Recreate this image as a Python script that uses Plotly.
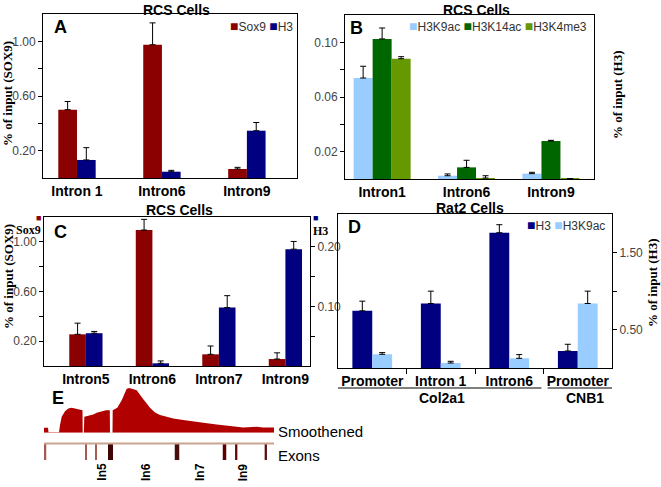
import plotly.graph_objects as go

W, H = 661, 487

# ---------------- data ----------------
# Panel A (RCS cells, % of input)
a_cats = ["Intron 1", "Intron6", "Intron9"]
a_sox9 = [0.50, 0.975, 0.066]
a_sox9_err = [0.06, 0.16, 0.012]
a_h3 = [0.132, 0.046, 0.346]
a_h3_err = [0.09, 0.01, 0.06]

# Panel B (RCS cells, % of input (H3))
b_cats = ["Intron1", "Intron6", "Intron9"]
b_k9ac = [0.0739, 0.0024, 0.0039]
b_k9ac_err = [0.0086, 0.0013, 0.0010]
b_k14ac = [0.1025, 0.0085, 0.0278]
b_k14ac_err = [0.0080, 0.0052, 0.0005]
b_k4me3 = [0.0880, 0.0007, 0.0003]
b_k4me3_err = [0.0015, 0.0017, 0.0]

# Panel C (RCS cells)
c_cats = ["Intron5", "Intron6", "Intron7", "Intron9"]
c_sox9 = [0.255, 1.095, 0.094, 0.056]
c_sox9_err = [0.09, 0.086, 0.067, 0.05]
c_h3 = [0.055, 0.0045, 0.098, 0.196]
c_h3_err = [0.003, 0.004, 0.020, 0.013]

# Panel D (Rat2 cells)
d_cats = ["Promoter", "Intron 1", "Intron6", "Promoter"]
d_h3 = [0.742, 0.838, 1.757, 0.221]
d_h3_err = [0.126, 0.16, 0.104, 0.087]
d_k9ac = [0.178, 0.065, 0.126, 0.838]
d_k9ac_err = [0.022, 0.022, 0.048, 0.16]

# Panel E: smoothened ChIP-seq signal along the locus
e_pos = [0, 4, 4.5, 15, 16, 17.7, 21, 24.3, 27.7, 32.7,
         36, 38.5, 38.7, 39.8, 40.3, 44.3, 49.3, 52.7, 57.7, 62,
         65.8, 66, 68.5, 68.7, 73.3, 77.7, 82.7, 85.3, 92.7, 96,
         99.3, 102.7, 106, 111, 116, 122.7, 129.3, 139.3, 149.3, 159.3,
         172.7, 186, 199.3, 212.7, 219.3, 230]
e_signal = [5, 5, 0.5, 0.5, 7.7, 16, 21.7, 24.3, 25, 23.7,
            22.7, 22.7, 0, 0, 16, 16.7, 18.3, 20, 21.7, 22.7,
            22.7, 0, 0, 22.7, 25, 32.7, 44.3, 45, 42.7, 37.7,
            33.7, 29.3, 25, 20.3, 17.7, 16, 14.3, 12.7, 11, 10,
            8.3, 6.7, 5.3, 6, 5.3, 5.3]
exon_pos = [1.5, 42, 52, 66.5, 133, 180.5, 192.2, 221.8]
exon_len = [1.5, 1.5, 1.5, 5.0, 4.5, 3.5, 2.3, 2.3]
exon_col = ["#a65a50", "#a65a50", "#a65a50", "#3d0505", "#4a0d0d", "#5a0000", "#660808", "#5a1010"]
intron_labels = ["In5", "In6", "In7", "In9"]
intron_pos = [57.7, 102, 156, 199.3]

# ---------------- styles ----------------
RED = "#8B0000"
NAVY = "#000080"
LBLUE = "#99CCFF"
DGREEN = "#006600"
OLIVE = "#669900"
SANS = "Liberation Sans, Arial, sans-serif"
NARROW = "Liberation Sans Narrow, Arial Narrow, Liberation Sans, Arial, sans-serif"
SERIF = "Liberation Serif, Times New Roman, serif"

E_X0, E_X1 = 44, 274  # pixel span of the locus track


def px(x, y):
    return x / W, 1 - y / H


def err(vals):
    return dict(type="data", array=vals, arrayminus=[0] * len(vals), symmetric=False,
                color="black", thickness=1, width=3)


fig = go.Figure()


def add_bars(x_idx, vals, errs, color, width, offset, xa, ya):
    fig.add_trace(go.Bar(x=x_idx, y=vals, error_y=err(errs), marker=dict(color=color, line=dict(width=0)),
                         width=width, offset=offset, xaxis=xa, yaxis=ya, showlegend=False))


# A
ax = list(range(len(a_cats)))
add_bars(ax, a_sox9, a_sox9_err, RED, 0.22, -0.22, "x", "y")
add_bars(ax, a_h3, a_h3_err, NAVY, 0.22, 0.0, "x", "y")
# B
bx = list(range(len(b_cats)))
add_bars(bx, b_k9ac, b_k9ac_err, LBLUE, 0.225, -0.3375, "x2", "y2")
add_bars(bx, b_k14ac, b_k14ac_err, DGREEN, 0.225, -0.1125, "x2", "y2")
add_bars(bx, b_k4me3, b_k4me3_err, OLIVE, 0.225, 0.1125, "x2", "y2")
# C
cx = list(range(len(c_cats)))
add_bars(cx, c_sox9, c_sox9_err, RED, 0.25, -0.25, "x3", "y3")
add_bars(cx, c_h3, c_h3_err, NAVY, 0.25, 0.0, "x3", "y4")
# D
dx = list(range(len(d_cats)))
add_bars(dx, d_h3, d_h3_err, NAVY, 0.29, -0.29, "x4", "y5")
add_bars(dx, d_k9ac, d_k9ac_err, LBLUE, 0.29, 0.0, "x4", "y5")
# E
fig.add_trace(go.Scatter(x=e_pos, y=e_signal, mode="lines", fill="tozeroy", line=dict(width=0, color="#b00000"),
                         fillcolor="#b00000", xaxis="x5", yaxis="y6", showlegend=False, hoverinfo="skip"))
fig.add_trace(go.Bar(x=exon_pos, y=[1] * len(exon_pos), width=exon_len, marker=dict(color=exon_col, line=dict(width=0)),
                     xaxis="x6", yaxis="y7", showlegend=False))

yfont = dict(family=SANS, size=12, color="#444")
xfont = dict(family=NARROW, size=14, color="black", weight="bold")


def ydict(dom, rng, tv, tt, anchor, **kw):
    d = dict(domain=dom, range=rng, tickvals=tv, ticktext=tt, showline=True, linecolor="black", linewidth=1,
             mirror=True, ticks="outside", ticklen=4, tickcolor="black", tickfont=yfont, showgrid=False,
             zeroline=False, anchor=anchor)
    d.update(kw)
    return d


def xdict(dom, rng, cats, anchor, **kw):
    d = dict(domain=dom, range=rng, tickvals=list(range(len(cats))), ticktext=cats, showline=True,
             linecolor="black", linewidth=1, mirror=True, ticks="", tickfont=xfont, showgrid=False,
             zeroline=False, anchor=anchor)
    d.update(kw)
    return d


def dom_x(a, b):
    return [a / W, b / W]


def dom_y(top, bot):
    return [1 - bot / H, 1 - top / H]


fig.update_layout(
    width=W, height=H, margin=dict(l=0, r=0, t=0, b=0), paper_bgcolor="white", plot_bgcolor="white",
    barmode="overlay",
    xaxis=xdict(dom_x(43, 297), [-0.4, 2.59], a_cats, "y"),
    yaxis=ydict(dom_y(14, 178), [0, 1.2], [0.2, 0.4, 0.6, 0.8, 1.0], ["0.20", "", "0.60", "", "1.00"], "x"),
    xaxis2=xdict(dom_x(345, 594), [-0.44, 2.51], b_cats, "y2"),
    yaxis2=ydict(dom_y(15, 179), [0, 0.12], [0.02, 0.04, 0.06, 0.08, 0.10], ["0.02", "", "0.06", "", "0.10"], "x2"),
    xaxis3=xdict(dom_x(44, 310), [-0.63, 3.37], c_cats, "y3"),
    yaxis3=ydict(dom_y(217, 366), [0, 1.2], [0.2, 0.4, 0.6, 0.8, 1.0], ["0.20", "", "0.60", "", "1.00"], "x3",
                 mirror=False),
    yaxis4=ydict(dom_y(217, 366), [0, 0.25], [0.05, 0.10, 0.15, 0.20], ["", "0.10", "", "0.20"], "x3",
                 overlaying="y3", side="right", mirror=False),
    xaxis4=xdict(dom_x(338, 612), [-0.5, 3.5], d_cats, "y5",
                 minor=dict(tickvals=[0.5, 1.5, 2.5], ticks="outside", ticklen=5, tickcolor="black")),
    yaxis5=ydict(dom_y(214, 368), [0, 2.0], [0.5, 1.0, 1.5], ["0.50", "", "1.50"], "x4", side="right"),
    xaxis5=dict(domain=dom_x(E_X0, E_X1), range=[0, 230], visible=False, anchor="y6"),
    yaxis6=dict(domain=dom_y(387, 432.7), range=[0, 46], visible=False, anchor="x5"),
    xaxis6=dict(domain=dom_x(E_X0, E_X1), range=[0, 230], visible=False, anchor="y7"),
    yaxis7=dict(domain=dom_y(444, 460), range=[0, 1], visible=False, anchor="x6"),
)

ann = []


def text(x, y, s, size=12, family=SANS, color="black", bold=False, angle=0, xanchor="center"):
    X, Y = px(x, y)
    ann.append(dict(x=X, y=Y, xref="paper", yref="paper", text=s, showarrow=False, textangle=angle,
                    xanchor=xanchor, yanchor="middle",
                    font=dict(family=family, size=size, color=color, weight="bold" if bold else "normal")))


# titles
text(176, 10, "RCS Cells", 14, bold=True)
text(477, 10, "RCS Cells", 14, bold=True)
text(179, 210, "RCS Cells", 14, bold=True)
text(470, 208, "Rat2 Cells", 14, bold=True)
# panel letters
text(60, 27, "A", 18, bold=True)
text(356, 28, "B", 18, bold=True)
text(60, 232, "C", 18, bold=True)
text(354, 227, "D", 18, bold=True)
text(58, 398, "E", 18, bold=True)
# axis titles
text(8, 94, "% of input (SOX9)", 13, SERIF, bold=True, angle=-90)
text(8, 277, "% of input (SOX9)", 13, SERIF, bold=True, angle=-90)
text(617, 95, "% of input (H3)", 13, SERIF, bold=True, angle=-90)
text(652, 283, "% of input (H3)", 13, SERIF, bold=True, angle=-90)
# legends
lg = "<span style='color:%s;font-size:14px'>■</span>%s"
text(295, 26, lg % (RED, "Sox9") + " " + lg % (NAVY, "H3"), 12, color="#333", xanchor="right")
text(589, 26, lg % (LBLUE, "H3K9ac") + " " + lg % (DGREEN, "H3K14ac") + " " + lg % (OLIVE, "H3K4me3"), 12,
     color="#333", xanchor="right")
text(607, 225, lg % (NAVY, "H3") + " " + lg % (LBLUE, "H3K9ac"), 12, color="#333", xanchor="right")
text(38.5, 218, "■", 9, color=RED)
text(43, 230, "Sox9", 12, SERIF, bold=True, xanchor="right")
text(315.5, 218.5, "■", 9, color=NAVY)
text(311, 231, "H3", 12, SERIF, bold=True, xanchor="left")
# panel D group labels
text(442, 398, "Col2a1", 14, NARROW, bold=True)
text(585, 398, "CNB1", 14, NARROW, bold=True)
# panel E labels
text(276, 431, "Smoothened", 15, xanchor="left")
text(276, 455, "Exons", 15, xanchor="left")
for lab, p in zip(intron_labels, intron_pos):
    text(E_X0 + p, 472, lab, 12, bold=True, angle=-90)
fig.update_layout(annotations=ann)

shapes = [
    dict(type="line", xref="x4", yref="paper", x0=-0.55, x1=2.47, y0=1 - 388 / H, y1=1 - 388 / H,
         line=dict(color="black", width=1)),
    dict(type="line", xref="x4", yref="paper", x0=2.56, x1=3.51, y0=1 - 388 / H, y1=1 - 388 / H,
         line=dict(color="black", width=1)),
    dict(type="line", xref="x6", yref="paper", x0=0, x1=230, y0=1 - 443.5 / H, y1=1 - 443.5 / H,
         line=dict(color="#c9a48f", width=2)),
]
fig.update_layout(shapes=shapes)

fig.write_html("out.html", config={"displayModeBar": False},
               post_script="document.body.style.margin='0';document.body.style.padding='0';")
